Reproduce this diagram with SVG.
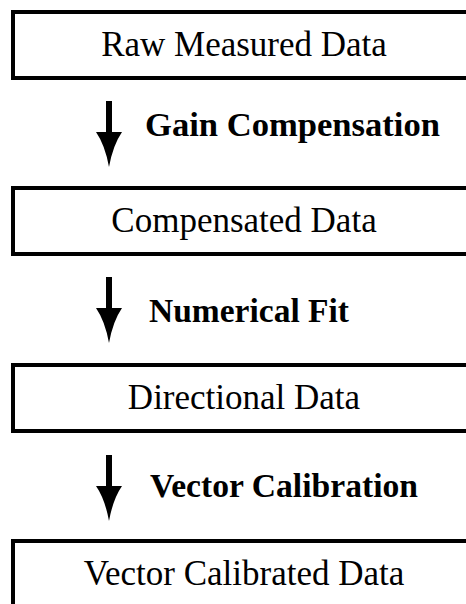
<svg xmlns="http://www.w3.org/2000/svg" xmlns:xlink="http://www.w3.org/1999/xlink" width="466" height="604" viewBox="0 0 466 604">
<style>
.box{fill:#fff;stroke:#000;stroke-width:4}
.lbl{font-family:"Liberation Serif","Times New Roman",serif;font-size:35px;fill:#000;text-anchor:middle}
.step{font-family:"Liberation Serif","Times New Roman",serif;font-size:34px;font-weight:bold;fill:#000}
.arr{fill:#000;stroke:none}
</style>
<defs>
<path id="arrow" class="arr" d="M-3,0 H3 V31 L13,31 Q4,44 0,66 Q-4,44 -13,31 L-3,31 Z"/>
</defs>
<rect width="466" height="604" fill="#fff"/>
<g id="connectors">
<use xlink:href="#arrow" href="#arrow" transform="translate(109,101)"/>
<use xlink:href="#arrow" href="#arrow" transform="translate(109,277)"/>
<use xlink:href="#arrow" href="#arrow" transform="translate(109,455)"/>
<text class="step" x="145" y="136" textLength="295" lengthAdjust="spacingAndGlyphs">Gain Compensation</text>
<text class="step" x="149" y="322" textLength="200" lengthAdjust="spacingAndGlyphs">Numerical Fit</text>
<text class="step" x="150" y="497" textLength="268" lengthAdjust="spacingAndGlyphs">Vector Calibration</text>
</g>
<g id="raw">
<rect class="box" x="13" y="12" width="462" height="66"/>
<text class="lbl" x="244" y="56">Raw Measured Data</text>
</g>
<g id="compensated">
<rect class="box" x="13" y="188" width="462" height="66"/>
<text class="lbl" x="244" y="232">Compensated Data</text>
</g>
<g id="directional">
<rect class="box" x="13" y="365" width="462" height="66"/>
<text class="lbl" x="244" y="409">Directional Data</text>
</g>
<g id="vector">
<rect class="box" x="13" y="541" width="462" height="66"/>
<text class="lbl" x="244" y="585">Vector Calibrated Data</text>
</g>
</svg>
